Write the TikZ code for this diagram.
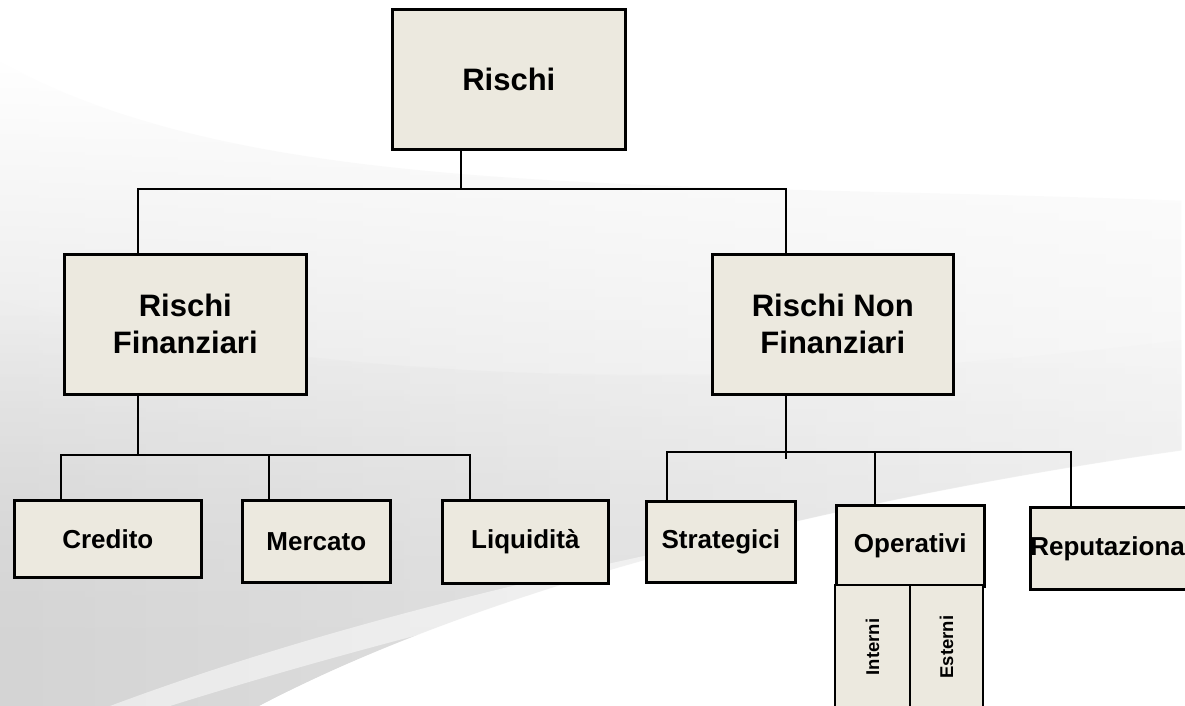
\documentclass[tikz,border=0pt]{standalone}
\usepackage{fontspec}
\setmainfont{Liberation Sans}
\definecolor{boxfill}{RGB}{236, 233, 223}
\usetikzlibrary{positioning, backgrounds, fadings}

\begin{document}
\begin{tikzpicture}[
                x=1pt, y=-1pt,
                riskbox/.style={rectangle, draw=black, line width=2.6pt, fill=boxfill, inner sep=0pt, align=center, anchor=north west},
                root/.style={riskbox, font=\fontsize{31}{37}\selectfont\bfseries},
                leaf/.style={riskbox, font=\fontsize{26}{31}\selectfont\bfseries},
                sub/.style={riskbox, anchor=center, rotate=90, font=\fontsize{18.5}{22}\selectfont\bfseries},
                link/.style={line width=2pt}
            ]%
            \useasboundingbox (0,0) rectangle (1185,706);
            \clip (0,0) rectangle (1185,706);
            %
            % Sfondo
            \fill[white] (0,0) rectangle (1185,706);
            \shade[left color=black!17, right color=black!7, path fading=north] (0,60) .. controls (250,200) and (650,180) .. (1185,200) -- (1185,450) .. controls (900,490) and (520,570) .. (260,706) -- (0,706) -- cycle;
            \shade[left color=black!17, right color=black!8, path fading=north] (0,300) .. controls (300,380) and (700,400) .. (1185,340) -- (1185,450) .. controls (900,490) and (520,570) .. (260,706) -- (0,706) -- cycle;
            \fill[white, opacity=0.5] (110,706) .. controls (420,590) and (800,520) .. (1185,455) -- (1185,470) .. controls (800,540) and (460,615) .. (170,706) -- cycle;
            %
            % Radice
            \node[root, minimum width=233pt, minimum height=140pt] (rischi) at (391,8) {Rischi};
            %
            % === Secondo livello ===
            \node[root, minimum width=242pt, minimum height=140pt] (fin) at (63,253) {Rischi\\Finanziari};
            \node[root, minimum width=241pt, minimum height=140pt] (nonfin) at (711,253) {Rischi Non\\Finanziari};
            %
            % === Rischi finanziari ===
            \node[leaf, minimum width=187pt, minimum height=77pt] (credito) at (13,499) {Credito};
            \node[leaf, minimum width=148pt, minimum height=82pt] (mercato) at (241,499) {Mercato};
            \node[leaf, minimum width=166pt, minimum height=83pt] (liquidita) at (441,499) {Liquidità};
            %
            % === Rischi non finanziari ===
            \node[leaf, minimum width=149pt, minimum height=81pt] (strategici) at (645,500) {Strategici};
            \node[leaf, minimum width=148pt, minimum height=81pt] (operativi) at (835,504) {Operativi};
            \node[leaf, minimum width=170pt, minimum height=82pt] (reput) at (1029,506) {Reputazionale};
            \node[sub, minimum width=124pt, minimum height=75pt] (interni) at (872.5,647) {Interni};
            \node[sub, minimum width=124pt, minimum height=73pt] (esterni) at (946.5,647) {Esterni};
            %
            % Connessioni
            \coordinate (jtop) at (461,189);
            \coordinate (jfin) at (138,455);
            \coordinate (jnonfin) at (786,452);
            \draw[link] (rischi.south -| jtop) -- (jtop);
            \draw[link] (fin.north -| jfin) |- (jtop) -| (nonfin.north -| jnonfin);
            %
            \draw[link] (fin.south -| jfin) -- (jfin);
            \draw[link] ([xshift=-46.5pt]credito.north) |- (jfin) -| ([xshift=-55pt]liquidita.north);
            \draw[link] ([xshift=-47pt]mercato.north) |- (jfin);
            %
            \draw[link] (nonfin.south -| jnonfin) -- ++(0,63);
            \draw[link] ([xshift=-53.5pt]strategici.north) |- (jnonfin) -| ([xshift=-47pt]reput.north);
            \draw[link] ([xshift=-35pt]operativi.north) |- (jnonfin);
        \end{tikzpicture}
\end{document}
